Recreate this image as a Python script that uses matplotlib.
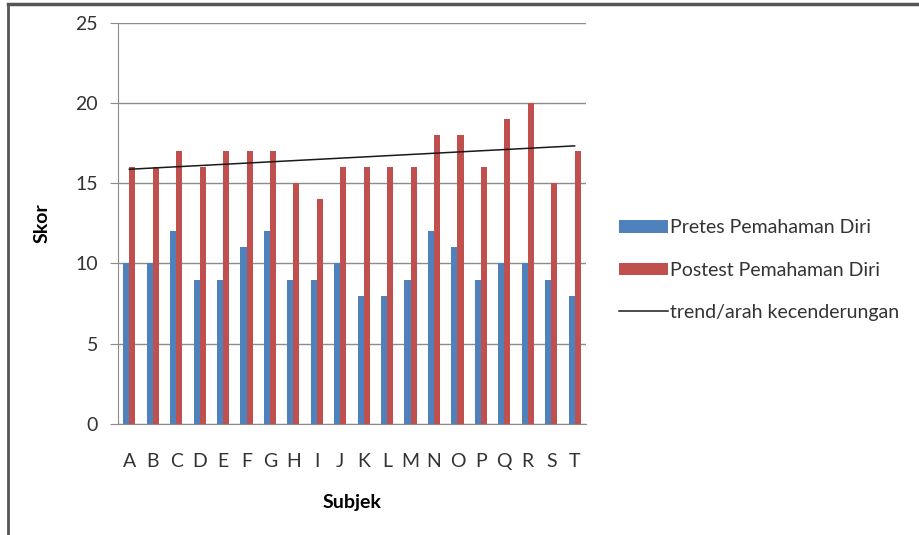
import matplotlib.pyplot as plt
import numpy as np

subjek = list("ABCDEFGHIJKLMNOPQRST")
pretes = [10, 10, 12, 9, 9, 11, 12, 9, 9, 10, 8, 8, 9, 12, 11, 9, 10, 10, 9, 8]
postest = [16, 16, 17, 16, 17, 17, 17, 15, 14, 16, 16, 16, 16, 18, 18, 16, 19, 20, 15, 17]

plt.rcParams['font.family'] = ['Lato', 'DejaVu Sans']

fig = plt.figure(figsize=(9.19, 5.35), dpi=100)
ax = fig.add_axes([0.128, 0.2075, 0.51, 0.75])

x = np.arange(len(subjek))
w = 0.26
b1 = ax.bar(x - w / 2, pretes, w, color='#4F81BD', label='Pretes Pemahaman Diri', zorder=2)
b2 = ax.bar(x + w / 2, postest, w, color='#C0504D', label='Postest Pemahaman Diri', zorder=2)

# linear trend of the posttest scores
m, b = np.polyfit(x, postest, 1)
ln, = ax.plot(x, m * x + b, color='#1a1a1a', lw=1.1, label='trend/arah kecenderungan', zorder=3)

ax.set_xlim(-0.5, len(subjek) - 0.5)
ax.set_ylim(0, 25)
ax.set_yticks(range(0, 26, 5))
ax.set_xticks(x)
ax.set_xticklabels(subjek)
ax.yaxis.grid(True, color='#8c8c8c', lw=1, zorder=0)
ax.set_axisbelow(True)
for s in ['top', 'right']:
    ax.spines[s].set_visible(False)
ax.spines['left'].set_color('#8c8c8c')
ax.spines['bottom'].set_color('#8c8c8c')
ax.tick_params(axis='y', length=6, color='#8c8c8c', labelsize=14, labelcolor='#333333', pad=8)
ax.tick_params(axis='x', length=0, labelsize=14, labelcolor='#333333', pad=21)
ax.set_ylabel('Skor', fontsize=14, fontweight='bold', labelpad=18)
ax.set_xlabel('Subjek', fontsize=14, fontweight='bold', labelpad=17)

fig.legend(handles=[b1, b2, ln], loc='center left', bbox_to_anchor=(0.655, 0.495), frameon=False,
           fontsize=14, handlelength=2.5, handleheight=0.6, handletextpad=0.1, labelspacing=1.3,
           labelcolor='#333333')

# figure frame lines (top and left)
fig.add_artist(plt.Line2D([0.0087, 1], [0.9925, 0.9925], color='#555555', lw=2.5, transform=fig.transFigure))
fig.add_artist(plt.Line2D([0.0087, 0.0087], [0, 0.9925], color='#555555', lw=2, transform=fig.transFigure))

fig.savefig('out.png', dpi=100)
